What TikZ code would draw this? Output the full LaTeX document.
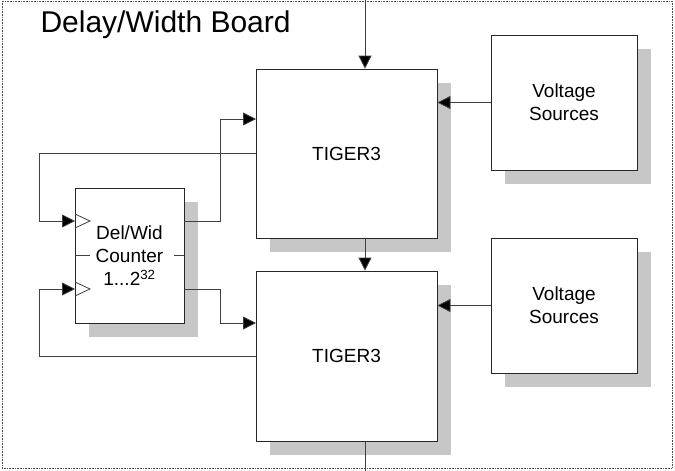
\documentclass[tikz,border=0pt]{standalone}
\usepackage{fontspec}
\setmainfont{Liberation Sans}
\usetikzlibrary{arrows.meta,shadows}

\begin{document}
\begin{tikzpicture}[x=1pt, y=-1pt,
    blk/.style={draw=black!85, line width=0.8pt, fill=white, inner sep=0pt, align=center,
      font=\fontsize{19}{23}\selectfont,
      drop shadow={shadow xshift=14pt, shadow yshift=-14pt, fill=black!22, opacity=1}},
    wire/.style={draw=black!75, line width=0.8pt},
    tip/.style={wire, -{Triangle[length=13pt, width=13pt, fill=black]}}]
      \useasboundingbox (0,0) rectangle (675,471);
      \draw[densely dotted, black!70, line width=0.6pt] (2,1) rectangle (672,468);
      \node[anchor=base west, font=\fontsize{30}{34}\selectfont] (title) at (37,32.5) {Delay/Width Board};

      % boxes
      \node[blk, minimum width=181pt, minimum height=169pt] (tigA) at (346.5,153.5) {TIGER3};
      \node[blk, minimum width=181pt, minimum height=170pt] (tigB) at (346.5,356) {TIGER3};
      \node[blk, minimum width=146pt, minimum height=135pt] (vsA) at (564,102.5) {Voltage\\Sources};
      \node[blk, minimum width=146pt, minimum height=135pt] (vsB) at (564,305.5) {Voltage\\Sources};
      \node[blk, minimum width=109pt, minimum height=135pt] (cnt) at (129.5,255.5) {Del/Wid\\Counter\\1...2\textsuperscript{32}};

      \coordinate (topin) at (365,0);
      \coordinate (botout) at (365,471);
      \coordinate (fbx) at (39,0);
      \coordinate (outx) at (220,0);
      \coordinate (clkA) at (75,221);
      \coordinate (clkB) at (75,289);
      \coordinate (inA) at (256,119);
      \coordinate (inB) at (256,323);

      % clock inputs and ticks
      \draw[wire] (clkA) ++(0,-7) -- ++(15,7) -- ++(-15,7);
      \draw[wire] (clkB) ++(0,-7) -- ++(15,7) -- ++(-15,7);
      \draw[wire] (cnt.west) -- ++(15,0);
      \draw[wire] (cnt.east) -- ++(-10,0);

      % vertical chain
      \draw[tip] (topin) -- (topin |- tigA.north);
      \draw[tip] (topin |- tigA.south) -- (topin |- tigB.north);
      \draw[wire] (topin |- tigB.south) -- (botout);

      % voltage sources
      \draw[tip] (vsA.west) -- (vsA.west -| tigA.east);
      \draw[tip] (vsB.west) -- (vsB.west -| tigB.east);

      % feedback to counter
      \draw[tip] (tigA.west) -- (tigA.west -| fbx) |- (clkA);
      \draw[tip] (tigB.west) -- (tigB.west -| fbx) |- (clkB);

      % counter outputs
      \draw[tip] (clkA -| cnt.east) -- (clkA -| outx) |- (inA);
      \draw[tip] (clkB -| cnt.east) -- (clkB -| outx) |- (inB);
    \end{tikzpicture}
\end{document}
